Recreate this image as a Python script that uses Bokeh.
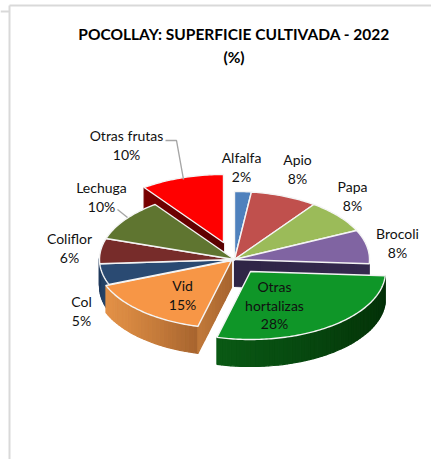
import math
from bokeh.plotting import figure
from bokeh.models import Range1d
from bokeh.core.properties import value
from bokeh.embed import file_html
from bokeh.resources import INLINE

categories = ["Alfalfa", "Apio", "Papa", "Brocoli", "Otras hortalizas", "Vid", "Col", "Coliflor", "Lechuga", "Otras frutas"]
percent = [2, 8, 8, 8, 28, 15, 5, 6, 10, 10]
title_lines = ["POCOLLAY: SUPERFICIE CULTIVADA - 2022", "(%)"]

top_colors = ["#4f81bd", "#c0504d", "#9bbb59", "#8064a2", "#0f9628", "#f79646", "#2a4a72", "#772c2a", "#5f7530", "#ff0000"]
explode = [(0, 0), (0, 0), (0, 0), (0, 0), (16, 12), (-3, 1), (0, 0), (0, 0), (0, 0), (-11, -17)]
label_lines = [["Alfalfa"], ["Apio"], ["Papa"], ["Brocoli"], ["Otras", "hortalizas"], ["Vid"], ["Col"], ["Coliflor"], ["Lechuga"], ["Otras frutas"]]
label_pos = [(241, 157), (297, 159), (352, 186), (397, 233), (274, 286), (182, 285), (81, 301), (69, 238), (101, 187), (126, 135)]

CX, CY, RX, RY, DEPTH = 234, 259, 135, 68, 27
FONT = value("Lato")
LABEL_SIZE = "14px"

p = figure(width=431, height=459, x_range=Range1d(0, 431), y_range=Range1d(459, 0),
           output_backend="svg", toolbar_location=None, min_border=0,
           background_fill_color="white", border_fill_color="white", outline_line_color=None)
p.axis.visible = False
p.grid.visible = False


def pt(theta, off=(0, 0), dz=0):
    t = math.radians(theta)
    return CX + off[0] + RX * math.sin(t), CY + off[1] - RY * math.cos(t) + dz


def mix(c1, c2, f):
    a = [int(c1[i:i + 2], 16) for i in (1, 3, 5)]
    b = [int(c2[i:i + 2], 16) for i in (1, 3, 5)]
    return "#%02x%02x%02x" % tuple(round(x + (y - x) * f) for x, y in zip(a, b))


edges = [0]
for v in percent:
    edges.append(edges[-1] + v * 3.6)
span = {c: (edges[i], edges[i + 1], explode[i], top_colors[i]) for i, c in enumerate(categories)}


def top(cat):
    a, b, off, col = span[cat]
    n = max(4, int(b - a))
    pts = [(CX + off[0], CY + off[1])] + [pt(a + (b - a) * k / n, off) for k in range(n + 1)]
    p.patch([q[0] for q in pts], [q[1] for q in pts], fill_color=col, line_color="#f4f4f4",
            line_width=1.4, line_join="round")


def cut(cat, theta, c1, c2):
    off = span[cat][2]
    ox, oy = CX + off[0], CY + off[1]
    ex, ey = pt(theta, off)
    n = 10
    xs, ys, cols = [], [], []
    for k in range(n):
        f0, f1 = k / n, (k + 1) / n
        x0, y0 = ox + (ex - ox) * f0, oy + (ey - oy) * f0
        x1, y1 = ox + (ex - ox) * f1, oy + (ey - oy) * f1
        xs.append([x0, x1, x1, x0])
        ys.append([y0, y1, y1 + DEPTH, y0 + DEPTH])
        cols.append(mix(c1, c2, f0))
    p.patches(xs, ys, fill_color=cols, line_color=cols, line_width=1.2)


def wall(cat, a, b, stops):
    off = span[cat][2]
    n = max(6, int(abs(b - a) / 2))
    xs, ys, cols = [], [], []
    for k in range(n):
        t0, t1 = a + (b - a) * k / n, a + (b - a) * (k + 1) / n
        x0, y0 = pt(t0, off)
        x1, y1 = pt(t1, off)
        xs.append([x0, x1, x1, x0])
        ys.append([y0, y1, y1 + DEPTH, y0 + DEPTH])
        f = k / n * (len(stops) - 1)
        i = min(int(f), len(stops) - 2)
        cols.append(mix(stops[i], stops[i + 1], f - i))
    p.patches(xs, ys, fill_color=cols, line_color=cols, line_width=1.2)


# back exploded slice first, the rest of the pie overlaps it
cut("Otras frutas", edges[9], "#5a0000", "#7a0000")
top("Otras frutas")
cut("Brocoli", edges[4], "#2f2546", "#35294f")
wall("Col", edges[6], 270, ["#27456b", "#1f3a5c"])
wall("Coliflor", 270, 272, ["#1f3a5c", "#1f3a5c"])
wall("Vid", edges[5], edges[6], ["#a8652f", "#c47a3a", "#d98a42", "#e39148"])
cut("Vid", edges[5], "#a8652f", "#c27a3a")
wall("Otras hortalizas", edges[4], edges[5], ["#032e08", "#053a0a", "#074a10", "#0a5a14"])
for c in categories[:-1]:
    if c != "Otras hortalizas":
        top(c)
top("Otras hortalizas")

# leader lines
leader_x = [[165, 176, 183], [117, 127]]
leader_y = [[140, 140, 179], [209, 217]]
p.multi_line(leader_x, leader_y, line_color="#a6a6a6", line_width=1.4)

# chart frame
p.multi_line([[9, 9], [9, 431], [0, 9]], [[5, 459], [5, 5], [11, 11]], line_color="#d9d9d9", line_width=2)

# labels
xs, ys, txt = [], [], []
for lines, v, (x, y) in zip(label_lines, percent, label_pos):
    for j, s in enumerate(lines + [f"{v}%"]):
        xs.append(x)
        ys.append(y + j * 18.6)
        txt.append(s)
p.text(xs, ys, text=txt, text_font=FONT, text_font_size=LABEL_SIZE, text_color="#111111",
       text_align="center", text_baseline="middle")
p.text([233.5, 233.5], [33, 56], text=title_lines, text_font=FONT, text_font_size="15.5px",
       text_font_style="bold", text_color="#000000", text_align="center", text_baseline="middle")

open("out.html", "w").write(file_html(p, INLINE))
